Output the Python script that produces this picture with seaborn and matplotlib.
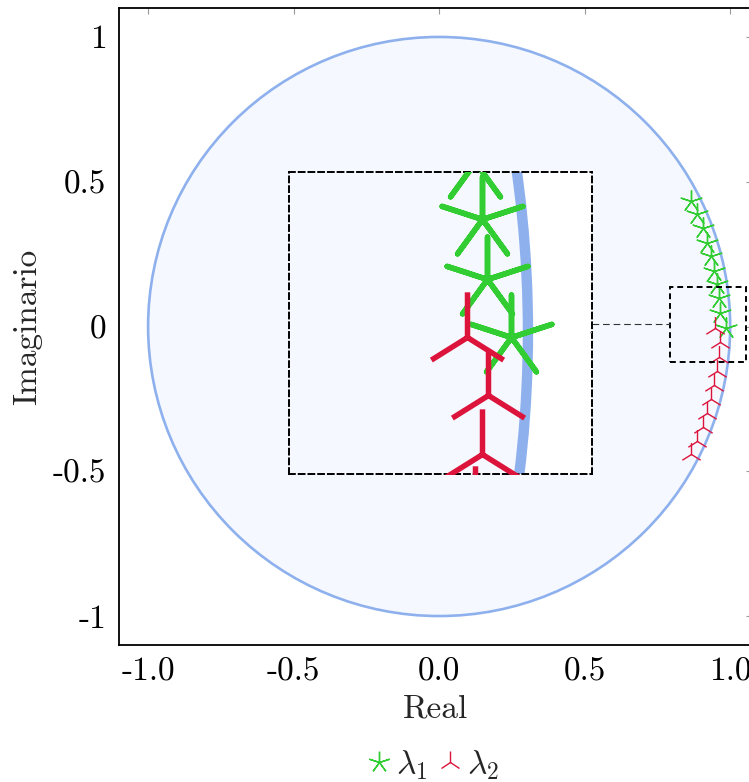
import matplotlib
matplotlib.use("Agg")
import matplotlib.pyplot as plt
import seaborn as sns
from matplotlib.patches import Circle, Rectangle
from matplotlib.lines import Line2D

# ---------------- data ----------------
lam1_re = [0.867, 0.887, 0.905, 0.921, 0.935, 0.945, 0.954, 0.960, 0.964, 0.985]
lam1_im = [0.432, 0.387, 0.339, 0.290, 0.245, 0.193, 0.147, 0.098, 0.046, -0.004]
lam2_re = [0.947, 0.965, 0.960, 0.954, 0.945, 0.935, 0.922, 0.905, 0.887, 0.867]
lam2_im = [-0.004, -0.054, -0.105, -0.155, -0.201, -0.250, -0.298, -0.347, -0.395, -0.440]
series_labels = [r"$\lambda_1$", r"$\lambda_2$"]
x_ticks = [-1.0, -0.5, 0.0, 0.5, 1.0]
x_ticklabels = ["-1.0", "-0.5", "0.0", "0.5", "1.0"]
y_ticks = [-1.0, -0.5, 0.0, 0.5, 1.0]
y_ticklabels = ["-1", "-0.5", "0", "0.5", "1"]
unit_radius = 1.0

# ---------------- style ----------------
sns.set_style("white")
plt.rcParams["font.family"] = ["serif"]
plt.rcParams["font.serif"] = ["cmr10", "DejaVu Serif"]
plt.rcParams["mathtext.fontset"] = "cm"
plt.rcParams["axes.unicode_minus"] = False

GREEN = "#32cd32"
RED = "#dc143c"
EDGE = "#8eb1ee"
FILL = "#f5f8fe"
FS = 24

# spy (zoom) window and magnified box, in data coordinates
spy_x = (0.792, 1.056)
spy_y = (-0.123, 0.138)
box_x = (-0.515, 0.526)
box_y = (-0.511, 0.532)
MAG = (box_x[1] - box_x[0]) / (spy_x[1] - spy_x[0])

fig = plt.figure(figsize=(7.49, 7.82), dpi=100)
ax = fig.add_axes([119 / 749, 137 / 782, 633 / 749, 637 / 782])
ax.set_facecolor("white")


def draw(a, scale):
    a.add_patch(Circle((0, 0), unit_radius, facecolor=FILL, edgecolor="none", zorder=1))
    a.add_patch(Circle((0, 0), unit_radius, fill=False, edgecolor=EDGE,
                       lw=1.9 * scale, zorder=2))
    sns.scatterplot(x=lam1_re, y=lam1_im, marker=(5, 2, 0), color=GREEN,
                    s=(15.5 * scale) ** 2, linewidth=1.0 * scale, ax=a,
                    zorder=3, legend=False)
    sns.scatterplot(x=lam2_re, y=lam2_im, marker="2", color=RED,
                    s=(16.5 * scale) ** 2, linewidth=1.0 * scale, ax=a,
                    zorder=3, legend=False)


draw(ax, 1.0)
ax.set_xlim(-1.1, 1.075)
ax.set_ylim(-1.1, 1.1)
ax.set_xticks(x_ticks)
ax.set_xticklabels(x_ticklabels)
ax.set_yticks(y_ticks)
ax.set_yticklabels(y_ticklabels)
ax.tick_params(direction="in", length=4.5, width=0.8, color="#9a9a9a",
               top=True, right=True, labelsize=FS, pad=9, labelcolor="black")
for s in ax.spines.values():
    s.set_color("black")
    s.set_linewidth(1.3)
ax.set_xlabel("Real", fontsize=FS, labelpad=6)
ax.set_ylabel("Imaginario", fontsize=FS, labelpad=8)

# spy rectangle on main axes
ax.add_patch(Rectangle((spy_x[0], spy_y[0]), spy_x[1] - spy_x[0], spy_y[1] - spy_y[0],
                       fill=False, edgecolor="black", lw=1.4, ls=(0, (3, 2)), zorder=5))
# connector line
ymid = (spy_y[0] + spy_y[1]) / 2
ax.plot([box_x[1], spy_x[0]], [ymid, ymid], color="#333333", lw=0.8,
        ls=(0, (6, 3.5)), zorder=5)

# magnified inset
ax_in = ax.inset_axes([box_x[0], box_y[0], box_x[1] - box_x[0], box_y[1] - box_y[0]],
                      transform=ax.transData)
ax_in.set_facecolor("white")
draw(ax_in, MAG)
# main axis right-hand tick at y=0 as seen through the magnifier
tick_len = 6 / 291
ax_in.plot([1.075 - tick_len, 1.075], [0, 0], color="#9a9a9a", lw=1.0, zorder=4)
ax_in.set_xlim(*spy_x)
ax_in.set_ylim(*spy_y)
ax_in.set_xticks([])
ax_in.set_yticks([])
for s in ax_in.spines.values():
    s.set_color("black")
    s.set_linewidth(1.4)
    s.set_linestyle((0, (3, 2)))

# legend
handles = [
    Line2D([], [], marker=(5, 2, 0), ls="none", color=GREEN, ms=15.5, mew=1.0),
    Line2D([], [], marker="2", ls="none", color=RED, ms=16.5, mew=1.0),
]
fig.legend(handles, series_labels, loc="center", bbox_to_anchor=(0.575, 0.022),
           ncol=2, frameon=False, fontsize=FS, handletextpad=0.0,
           columnspacing=0.2, handlelength=1.0, borderpad=0.1)

fig.savefig("out.png", dpi=100)
